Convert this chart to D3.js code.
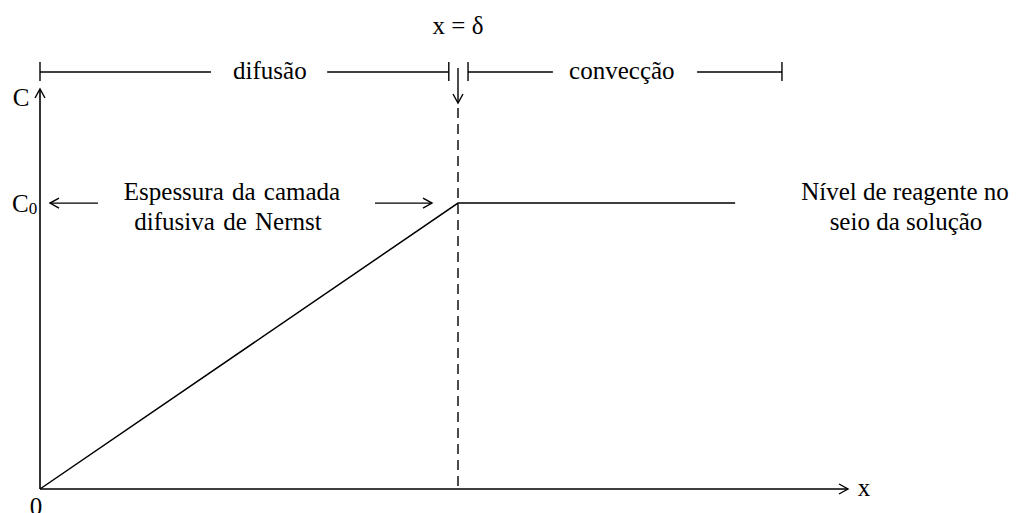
<!DOCTYPE html>
<html>
<head>
<meta charset="utf-8">
<script src="https://cdn.jsdelivr.net/npm/d3@7"></script>
<style>
  html, body { margin: 0; padding: 0; background: #fff; }
</style>
</head>
<body>
<div id="wrapper"></div>
<script>
// perfil de concentração (x em unidades de delta, C em unidades de C0)
const profileX = [0, 1, 1.663];
const profileC = [0, 1, 1];
const delta = 1;
const xAxisMax = 1.933;
const cAxisMax = 1.399;
// faixas do topo: difusão / convecção
const bandNames = ["difusão", "convecção"];
const bandStart = [0, 1.024];
const bandEnd = [0.978, 1.775];
const bandTextX = [0.55, 1.392];
const bandGap = [[0.409, 0.687], [1.227, 1.572]];

const width = 1030, height = 513;
const margin = { left: 40, bottom: 24 };
const serif = "Liberation Serif";

const svg = d3.select("#wrapper").append("svg")
    .attr("width", width)
    .attr("height", height);

// todo texto com a mesma fonte serifada
function addText(parent, size) {
    return parent.append("text")
        .attr("font-family", serif)
        .attr("font-size", size)
        .attr("fill", "#000");
}

const xScale = d3.scaleLinear().domain([0, xAxisMax]).range([margin.left, 848]);
const yScale = d3.scaleLinear().domain([0, cAxisMax]).range([height - margin.bottom, 89]);

// seta aberta
svg.append("defs").append("marker")
    .attr("id", "arrow")
    .attr("viewBox", "-10 -6 12 12")
    .attr("refX", 0).attr("refY", 0)
    .attr("markerWidth", 12).attr("markerHeight", 12)
    .attr("markerUnits", "userSpaceOnUse")
    .attr("orient", "auto")
    .append("path")
    .attr("d", "M-9,-5 L0,0 L-9,5")
    .attr("fill", "none")
    .attr("stroke", "#000")
    .attr("stroke-width", 1.4);

const y0 = yScale(0), x0 = xScale(0);

// eixos
svg.append("line")
    .attr("x1", x0).attr("y1", y0).attr("x2", xScale(xAxisMax)).attr("y2", y0)
    .attr("stroke", "#000").attr("stroke-width", 1.6)
    .attr("marker-end", "url(#arrow)");
svg.append("line")
    .attr("x1", x0).attr("y1", y0).attr("x2", x0).attr("y2", yScale(cAxisMax))
    .attr("stroke", "#000").attr("stroke-width", 1.6)
    .attr("marker-end", "url(#arrow)");

// perfil
const line = d3.line().x((d, i) => xScale(profileX[i])).y(d => yScale(d));
svg.append("path")
    .attr("d", line(profileC))
    .attr("fill", "none")
    .attr("stroke", "#000")
    .attr("stroke-width", 1.5);

// linha tracejada em x = delta
svg.append("line")
    .attr("x1", xScale(delta)).attr("x2", xScale(delta))
    .attr("y1", 108).attr("y2", y0)
    .attr("stroke", "#000").attr("stroke-width", 1.4)
    .attr("stroke-dasharray", "10,6");
svg.append("line")
    .attr("x1", xScale(delta)).attr("x2", xScale(delta))
    .attr("y1", 68).attr("y2", 103)
    .attr("stroke", "#000").attr("stroke-width", 1.4)
    .attr("marker-end", "url(#arrow)");

// faixas do topo
const bandY = 72;
bandNames.forEach((name, i) => {
    const g = svg.append("g");
    g.append("line")
        .attr("x1", xScale(bandStart[i])).attr("x2", xScale(bandGap[i][0]))
        .attr("y1", bandY).attr("y2", bandY)
        .attr("stroke", "#000").attr("stroke-width", 1.4);
    g.append("line")
        .attr("x1", xScale(bandGap[i][1])).attr("x2", xScale(bandEnd[i]))
        .attr("y1", bandY).attr("y2", bandY)
        .attr("stroke", "#000").attr("stroke-width", 1.4);
    [bandStart[i], bandEnd[i]].forEach(v => {
        g.append("line")
            .attr("x1", xScale(v)).attr("x2", xScale(v))
            .attr("y1", bandY - 10).attr("y2", bandY + 9)
            .attr("stroke", "#000").attr("stroke-width", 1.4);
    });
    addText(g, 25)
        .attr("x", xScale(bandTextX[i]))
        .attr("y", bandY + 7)
        .attr("text-anchor", "middle")
        .text(name);
});

addText(svg, 25)
    .attr("x", xScale(delta))
    .attr("y", 34)
    .attr("text-anchor", "middle")
    .text("x = δ");

// rótulos dos eixos
addText(svg, 25)
    .attr("x", 21).attr("y", 106)
    .attr("text-anchor", "middle")
    .text("C");
const c0 = addText(svg, 25)
    .attr("x", 12).attr("y", yScale(1) + 9);
c0.append("tspan").text("C");
c0.append("tspan").attr("dy", 2).attr("font-size", 17).text("0");

addText(svg, 25)
    .attr("x", 36).attr("y", 515)
    .attr("text-anchor", "middle")
    .text("0");
addText(svg, 25)
    .attr("x", 864).attr("y", y0 + 7)
    .attr("text-anchor", "middle")
    .text("x");

// espessura da camada
const cy = yScale(1);
svg.append("line")
    .attr("x1", 98).attr("x2", 50).attr("y1", cy).attr("y2", cy)
    .attr("stroke", "#000").attr("stroke-width", 1.4)
    .attr("marker-end", "url(#arrow)");
svg.append("line")
    .attr("x1", 375).attr("x2", 432).attr("y1", cy).attr("y2", cy)
    .attr("stroke", "#000").attr("stroke-width", 1.4)
    .attr("marker-end", "url(#arrow)");

const label1 = addText(svg, 25)
    .attr("text-anchor", "middle")
    .attr("word-spacing", 2);
label1.append("tspan").attr("x", 232).attr("y", 200).text("Espessura da camada");
label1.append("tspan").attr("x", 228).attr("y", 230).text("difusiva de Nernst");

const label2 = addText(svg, 25)
    .attr("text-anchor", "middle");
label2.append("tspan").attr("x", 905).attr("y", 200).text("Nível de reagente no");
label2.append("tspan").attr("x", 906).attr("y", 230).text("seio da solução");
</script>
</body>
</html>
